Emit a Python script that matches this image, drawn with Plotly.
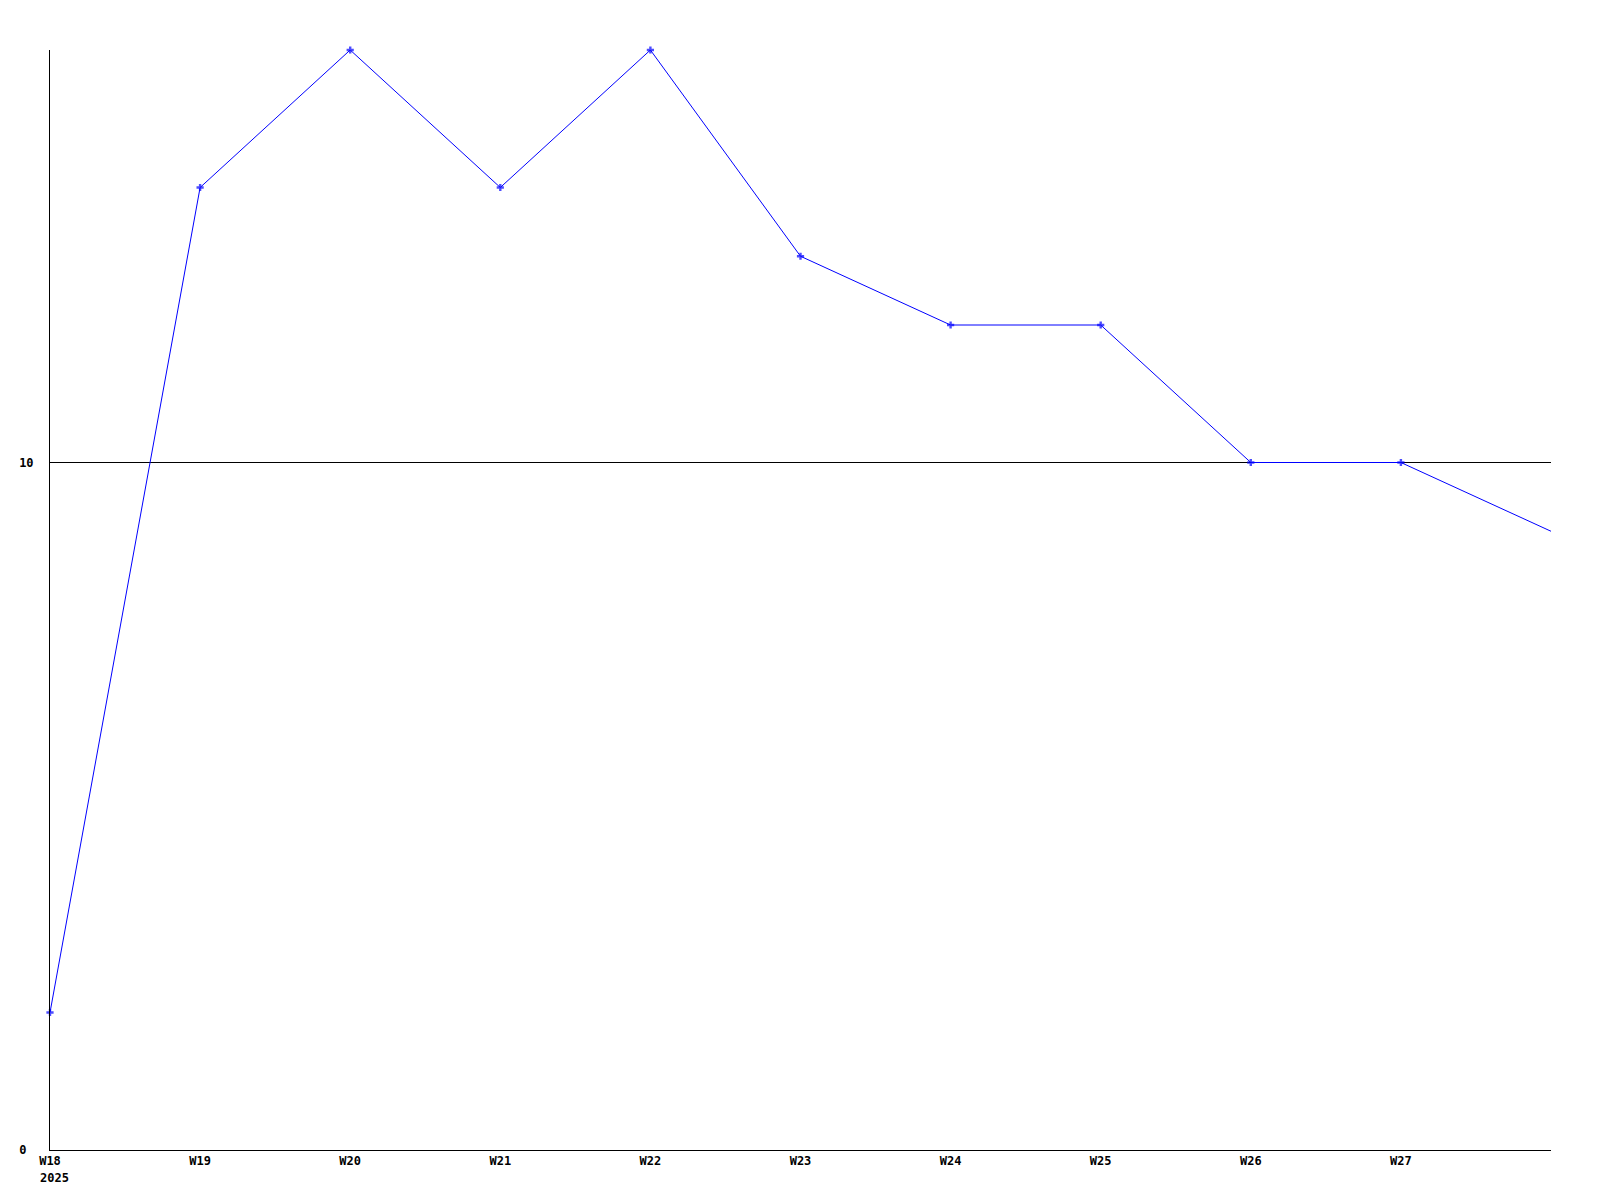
import plotly.graph_objects as go

weeks = ["W18", "W19", "W20", "W21", "W22", "W23", "W24", "W25", "W26", "W27", "W28"]
values = [2, 14, 16, 14, 16, 13, 12, 12, 10, 10, 9]
x_tick_labels = ["W18", "W19", "W20", "W21", "W22", "W23", "W24", "W25", "W26", "W27"]
y_ticks = [0, 10]
y_tick_labels = ["0\u00a0", "10"]
year_label = "2025"

FONT = dict(family="DejaVu Sans Mono", size=12, color="black", weight="bold")

marker_sizes = [6] * (len(weeks) - 1) + [0]

fig = go.Figure()
fig.add_trace(go.Scatter(
    x=weeks, y=values, mode="lines+markers",
    line=dict(color="#0000ff", width=1),
    marker=dict(symbol="cross", size=marker_sizes, color="#0000ff",
                line=dict(width=0)),
    cliponaxis=False,
))

fig.update_layout(
    width=1600, height=1200,
    margin=dict(l=42, r=57, t=42, b=58),
    plot_bgcolor="white", paper_bgcolor="white",
    showlegend=False,
    font=FONT,
    xaxis=dict(
        type="category",
        categoryarray=weeks,
        range=[0, len(weeks) - 1],
        tickvals=x_tick_labels,
        ticktext=x_tick_labels,
        showgrid=False, zeroline=False,
        showline=True, linecolor="black", linewidth=1,
        ticks="", ticklen=0,
        tickfont=FONT,
    ),
    yaxis=dict(
        range=[0, 16],
        tickvals=y_ticks,
        ticktext=y_tick_labels,
        showgrid=True, gridcolor="black", gridwidth=1,
        zeroline=False,
        showline=True, linecolor="black", linewidth=1,
        ticks="", ticklen=0,
        tickfont=FONT,
        ticklabelstandoff=13,
    ),
)

fig.add_annotation(
    x=weeks[0], y=0, xref="x", yref="y",
    text=year_label, showarrow=False,
    xanchor="left", yanchor="top",
    xshift=-12, yshift=-19,
    font=FONT,
)

fig.write_html("out.html")
